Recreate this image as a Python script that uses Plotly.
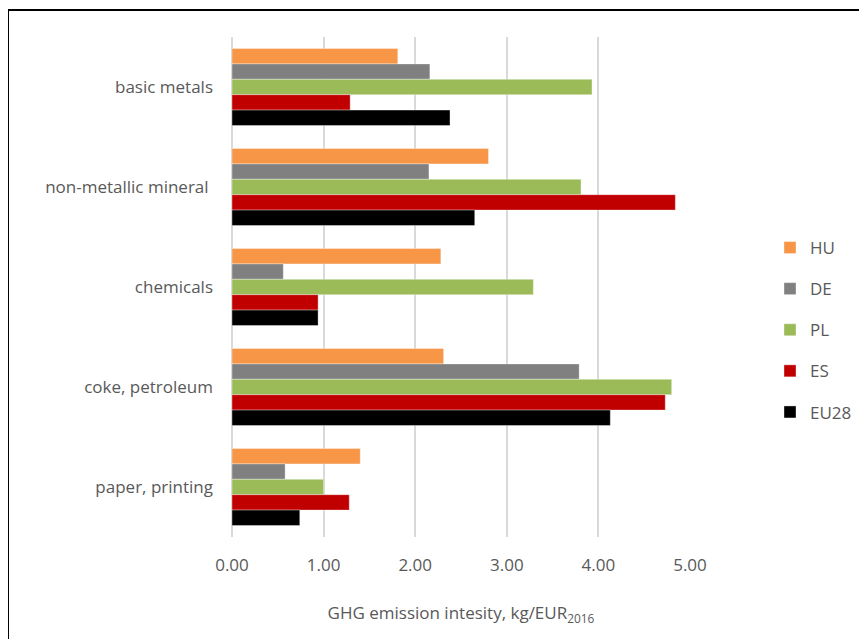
import plotly.graph_objects as go

categories = ["basic metals", "non-metallic mineral ", "chemicals", "coke, petroleum", "paper, printing"]
series_names = ["HU", "DE", "PL", "ES", "EU28"]
hu = [1.81, 2.80, 2.28, 2.31, 1.40]
de = [2.16, 2.15, 0.56, 3.79, 0.58]
pl = [3.93, 3.81, 3.29, 4.80, 1.00]
es = [1.29, 4.84, 0.94, 4.73, 1.28]
eu28 = [2.38, 2.65, 0.94, 4.13, 0.74]
x_ticks = [0, 1, 2, 3, 4, 5]
x_tick_labels = ["0.00", "1.00", "2.00", "3.00", "4.00", "5.00"]

colors = ["#F79646", "#808080", "#9BBB59", "#C00000", "#000000"]
values = [hu, de, pl, es, eu28]

# page body has an 8px margin; figure coordinates = screen coordinates - 8
OFF = 8
W, H = 867, 639
L, T = 232 - OFF, 37 - OFF
RIGHT, BOTTOM = 690 - OFF, 537 - OFF
R, B = W - RIGHT, H - BOTTOM
pw, ph = RIGHT - L, BOTTOM - T

fig = go.Figure()
for name, vals, col in zip(series_names, values, colors):
    fig.add_trace(go.Bar(
        y=categories, x=vals, name=name, orientation="h",
        marker=dict(color=col, line=dict(width=0.6, color="rgba(255,255,255,0.6)")),
        legendgroup=name,
    ))

def px_x(p):
    return (p - OFF - L) / pw

def px_y(p):
    return (BOTTOM - (p - OFF)) / ph

fig.add_shape(type="rect", xref="paper", yref="paper",
              x0=px_x(8), x1=px_x(900), y0=px_y(700), y1=px_y(10),
              line=dict(color="#000000", width=2), fillcolor="rgba(0,0,0,0)", layer="below")

fig.update_layout(
    width=W, height=H,
    margin=dict(l=L, r=R, t=T, b=B, autoexpand=False),
    paper_bgcolor="white", plot_bgcolor="white",
    font=dict(family="Open Sans", size=17, color="#595959"),
    barmode="group", bargap=0.23, bargroupgap=0,
    showlegend=True,
    legend=dict(x=px_x(770), y=px_y(230), xanchor="left", yanchor="top",
                font=dict(size=17, color="#595959"), tracegroupgap=16,
                traceorder="grouped", itemwidth=30, bgcolor="rgba(0,0,0,0)"),
    xaxis=dict(range=[0, 5], tickvals=x_ticks, ticktext=x_tick_labels,
               showgrid=True, gridcolor="#D9D9D9", gridwidth=1.5,
               zeroline=True, zerolinecolor="#D9D9D9", zerolinewidth=1.5,
               showline=False, ticks="", ticklabelstandoff=16,
               title=dict(text="GHG emission intesity, kg/EUR<sub>2016</sub>",
                          font=dict(size=17, color="#595959"), standoff=32),
               fixedrange=True),
    yaxis=dict(autorange="reversed", showgrid=False, showline=False, ticks="",
               ticklabelstandoff=18, fixedrange=True),
)

fig.write_html("out.html")
